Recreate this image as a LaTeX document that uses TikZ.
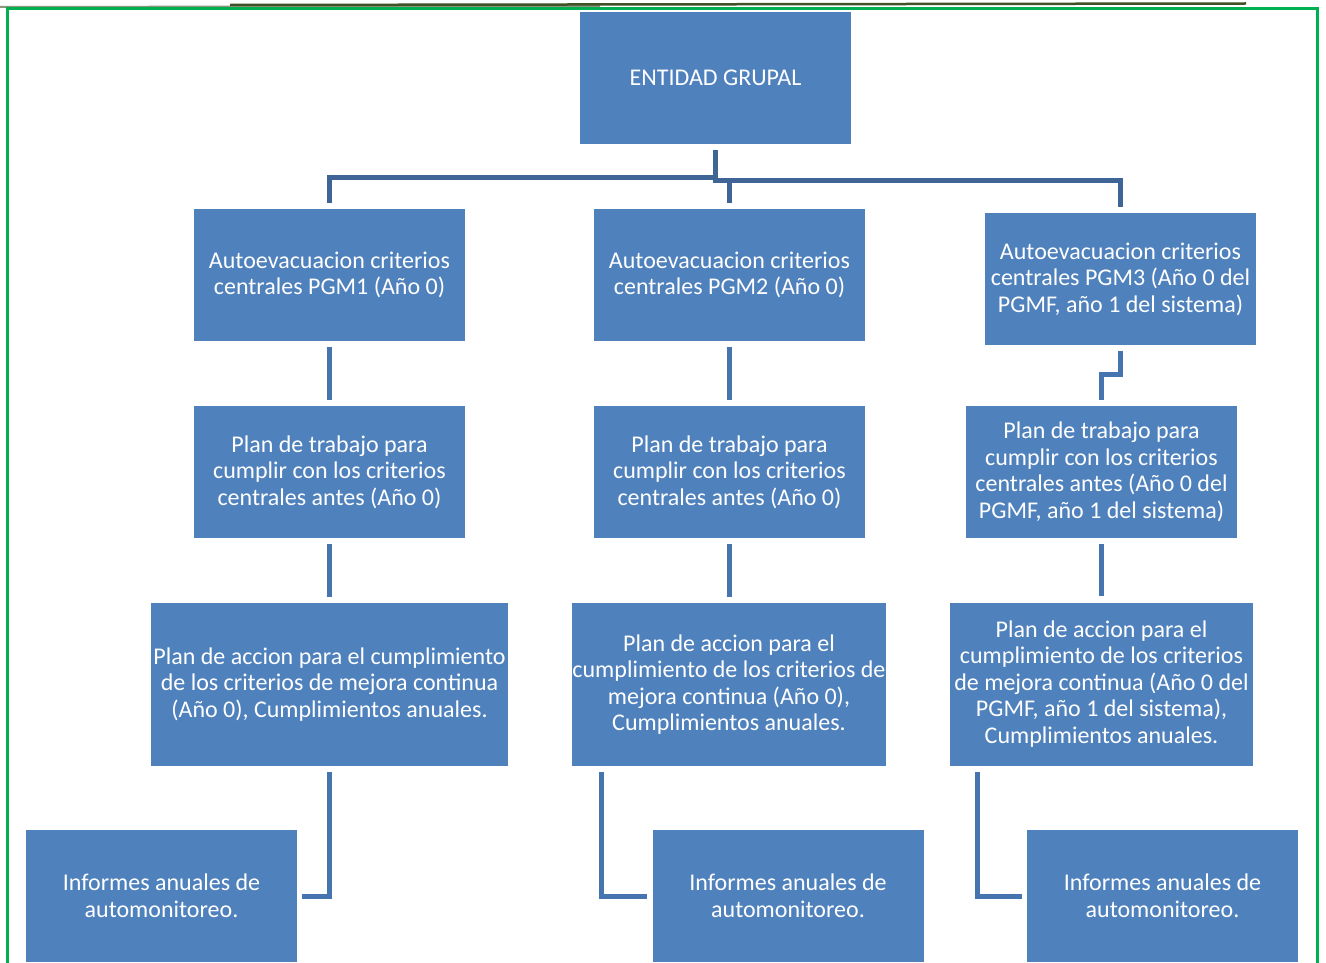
\documentclass[tikz,border=0pt]{standalone}
\usepackage{fontspec}
\setmainfont{Carlito}
\usetikzlibrary{calc}
\definecolor{boxblue}{HTML}{4F81BD}
\definecolor{connblue}{HTML}{4674AE}
\definecolor{conndark}{HTML}{3F6596}
\definecolor{framegreen}{HTML}{00B050}
\definecolor{olive}{HTML}{3E5226}
\begin{document}
\begin{tikzpicture}[x=1pt,y=-1pt,
  box/.style={fill=boxblue, draw=none, inner sep=0pt, text=white, align=center,
    font=\fontsize{24}{26.5}\selectfont},
  conn/.style={draw=connblue, line width=5pt, shorten <=6pt, shorten >=6pt},
  topconn/.style={conn, draw=conndark}]
\useasboundingbox (0,0) rectangle (1326,963);
\begin{scope}
\clip (0,0) rectangle (1326,963);
% frame
\draw[olive!60, line width=2pt] (0,7) -- (600,6);
\draw[olive, line width=2.5pt] (230,5) -- (1246,3.5);
\draw[framegreen, line width=3pt] (7.5,9) rectangle (1317,990);
% top
\node[box, minimum width=271pt, minimum height=132pt] (top) at (715.5,78) {ENTIDAD GRUPAL};
% row 1
\node[box, minimum width=271pt, minimum height=132pt] (b11) at (329.5,275) {Autoevacuacion criterios\\centrales PGM1 (Año 0)};
\node[box, minimum width=271pt, minimum height=132pt] (b12) at (729.5,275) {Autoevacuacion criterios\\centrales PGM2 (Año 0)};
\node[box, minimum width=271pt, minimum height=132pt] (b13) at (1120.5,279) {Autoevacuacion criterios\\centrales PGM3 (Año 0 del\\PGMF, año 1 del sistema)};
% row 2
\node[box, minimum width=271pt, minimum height=132pt] (b21) at (329.5,472) {Plan de trabajo para\\cumplir con los criterios\\centrales antes (Año 0)};
\node[box, minimum width=271pt, minimum height=132pt] (b22) at (729.5,472) {Plan de trabajo para\\cumplir con los criterios\\centrales antes (Año 0)};
\node[box, minimum width=271pt, minimum height=132pt] (b23) at (1101.5,472) {Plan de trabajo para\\cumplir con los criterios\\centrales antes (Año 0 del\\PGMF, año 1 del sistema)};
% row 3
\node[box, minimum width=357pt, minimum height=163pt] (b31) at (329.5,684.5) {Plan de accion para el cumplimiento\\de los criterios de mejora continua\\(Año 0), Cumplimientos anuales.};
\node[box, minimum width=312pt, minimum height=163pt] (b32) at (729,684.5) {Plan de accion para el\\cumplimiento de los criterios de\\mejora continua (Año 0),\\Cumplimientos anuales.};
\node[box, minimum width=303pt, minimum height=163pt] (b33) at (1101.5,684) {Plan de accion para el\\cumplimiento de los criterios\\de mejora continua (Año 0 del\\PGMF, año 1 del sistema),\\Cumplimientos anuales.};
% row 4
\node[box, minimum width=271pt, minimum height=132pt] (b41) at (161.5,896) {Informes anuales de\\automonitoreo.};
\node[box, minimum width=271pt, minimum height=132pt] (b42) at (788,896) {Informes anuales de\\automonitoreo.};
\node[box, minimum width=271pt, minimum height=132pt] (b43) at (1162.5,896) {Informes anuales de\\automonitoreo.};
% connectors top
\draw[topconn] (top.south) -- ++(0,33) -| (b11.north);
\draw[topconn] (top.south) -- ++(0,36) -| (b12.north);
\draw[topconn] (top.south) -- ++(0,36) -| (b13.north);
% row1 -> row2
\draw[conn] (b11.south) -- (b21.north);
\draw[conn] (b12.south) -- (b22.north);
\draw[conn] (b13.south) -- ++(0,29) -| (b23.north);
% row2 -> row3
\draw[conn] (b21.south) -- (b21.south |- b31.north);
\draw[conn] (b22.south) -- (b22.south |- b32.north);
\draw[conn] (b23.south) -- (b23.south |- b33.north);
% row3 -> row4
\draw[conn, shorten >=5pt] (b31.south) |- (b41.east);
\draw[conn, shorten >=5pt] ([xshift=29pt]b32.south west) |- (b42.west);
\draw[conn, shorten >=5pt] ([xshift=28pt]b33.south west) |- (b43.west);
\end{scope}
\end{tikzpicture}
\end{document}
